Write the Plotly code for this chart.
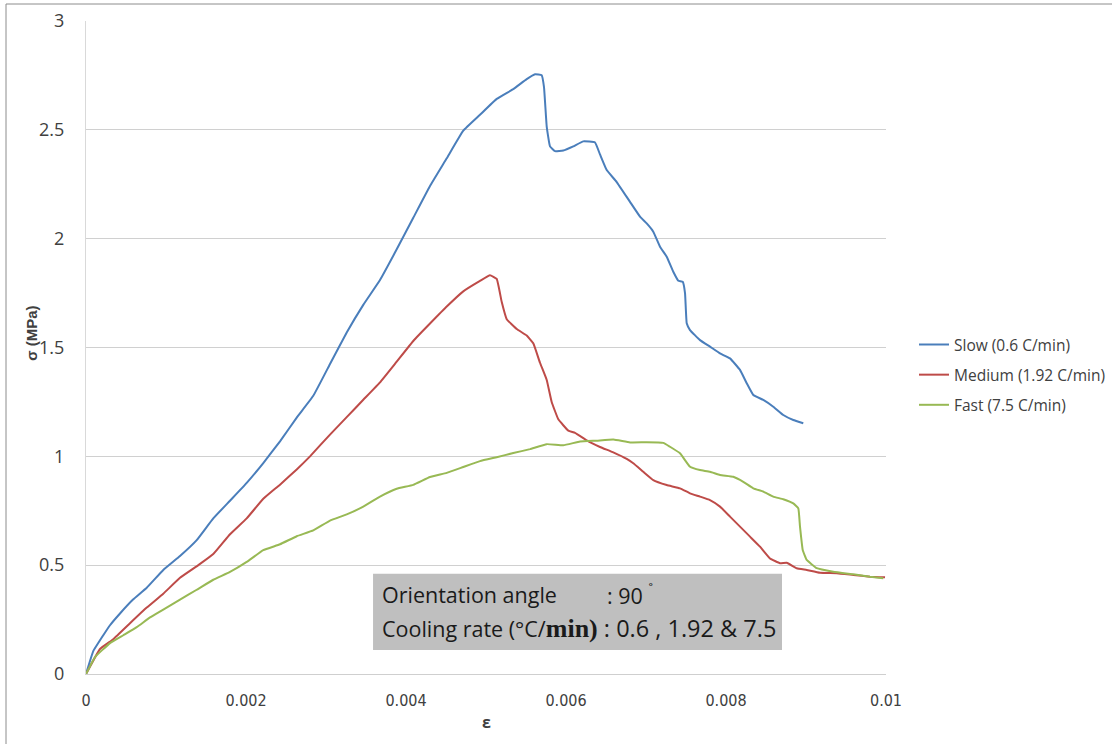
import plotly.graph_objects as go

# Strain (ε) and stress σ (MPa) for the three cooling rates
slow_eps = [0, 0.000091, 0.000216, 0.0003, 0.000425, 0.000588, 0.000759, 0.000966, 0.001175, 0.001384,
            0.001591, 0.0018, 0.002009, 0.002216, 0.002425, 0.002634, 0.002841, 0.00305, 0.003259, 0.003466,
            0.003675, 0.003884, 0.004091, 0.0043, 0.004509, 0.004716, 0.004925, 0.005134, 0.005341, 0.005509,
            0.005613, 0.005696, 0.005725, 0.005759, 0.0058, 0.005863, 0.005966, 0.006091, 0.006216, 0.006363,
            0.006425, 0.006509, 0.006634, 0.0068, 0.006925, 0.007009, 0.007091, 0.007175, 0.007259, 0.007341,
            0.007404, 0.007459, 0.007488, 0.007509, 0.00755, 0.007675, 0.0078, 0.007925, 0.00805, 0.008175,
            0.008259, 0.008341, 0.008466, 0.008591, 0.008716, 0.008841, 0.008966]
slow_sigma = [0, 0.105, 0.178, 0.224, 0.278, 0.342, 0.396, 0.478, 0.542, 0.615,
              0.715, 0.796, 0.878, 0.969, 1.069, 1.178, 1.278, 1.424, 1.569, 1.696,
              1.81, 1.951, 2.096, 2.242, 2.369, 2.496, 2.569, 2.642, 2.687, 2.733,
              2.755, 2.751, 2.696, 2.515, 2.424, 2.402, 2.405, 2.424, 2.447, 2.442,
              2.387, 2.315, 2.26, 2.169, 2.101, 2.07, 2.032, 1.963, 1.917, 1.848,
              1.807, 1.802, 1.749, 1.611, 1.58, 1.534, 1.504, 1.473, 1.45, 1.397,
              1.336, 1.282, 1.259, 1.228, 1.19, 1.167, 1.152]

medium_eps = [0, 0.000175, 0.000341, 0.00055, 0.000759, 0.000966, 0.001175, 0.001404, 0.001591, 0.0018,
              0.002009, 0.002216, 0.002425, 0.002634, 0.0028, 0.00305, 0.003259, 0.003466, 0.003675, 0.003884,
              0.004091, 0.0043, 0.004509, 0.004716, 0.004925, 0.00505, 0.005134, 0.005196, 0.005259, 0.005384,
              0.005509, 0.005591, 0.005675, 0.005759, 0.005821, 0.005904, 0.006029, 0.006113, 0.006259, 0.006425,
              0.006591, 0.006759, 0.006841, 0.006966, 0.007091, 0.007259, 0.007425, 0.00755, 0.007675, 0.0078,
              0.007925, 0.00805, 0.008175, 0.0083, 0.008425, 0.00855, 0.008675, 0.008759, 0.008884, 0.009009,
              0.009175, 0.009384, 0.009591, 0.0098, 0.009988]
medium_sigma = [0, 0.115, 0.16, 0.233, 0.305, 0.369, 0.442, 0.5, 0.551, 0.642,
                0.715, 0.805, 0.87, 0.94, 1.0, 1.1, 1.18, 1.26, 1.34, 1.435,
                1.53, 1.61, 1.688, 1.758, 1.806, 1.832, 1.815, 1.71, 1.63, 1.585,
                1.555, 1.519, 1.43, 1.351, 1.25, 1.17, 1.118, 1.108, 1.073, 1.043,
                1.018, 0.988, 0.968, 0.929, 0.891, 0.868, 0.853, 0.83, 0.815, 0.799,
                0.769, 0.723, 0.677, 0.631, 0.585, 0.531, 0.509, 0.511, 0.486, 0.478,
                0.465, 0.463, 0.455, 0.447, 0.444]

fast_eps = [0, 0.000113, 0.0003, 0.000466, 0.000634, 0.0008, 0.000966, 0.001175, 0.001384, 0.001591,
            0.0018, 0.002009, 0.002216, 0.002425, 0.002634, 0.002841, 0.00305, 0.003259, 0.003466, 0.003675,
            0.003884, 0.004091, 0.0043, 0.004509, 0.004716, 0.004925, 0.005134, 0.005341, 0.00555, 0.005759,
            0.005966, 0.006175, 0.006384, 0.006591, 0.0068, 0.007009, 0.007216, 0.0073, 0.007425, 0.00755,
            0.007675, 0.0078, 0.007925, 0.008091, 0.008216, 0.008341, 0.008466, 0.008591, 0.008716, 0.008841,
            0.008904, 0.008925, 0.008959, 0.009009, 0.009134, 0.009341, 0.009591, 0.0098, 0.009966]
fast_sigma = [0, 0.078, 0.142, 0.178, 0.215, 0.26, 0.296, 0.342, 0.387, 0.433,
              0.469, 0.515, 0.569, 0.596, 0.633, 0.66, 0.705, 0.733, 0.769, 0.815,
              0.851, 0.869, 0.905, 0.924, 0.951, 0.978, 0.996, 1.015, 1.033, 1.056,
              1.051, 1.068, 1.072, 1.077, 1.064, 1.065, 1.062, 1.044, 1.014, 0.952,
              0.937, 0.929, 0.914, 0.906, 0.883, 0.853, 0.838, 0.815, 0.803, 0.784,
              0.761, 0.677, 0.57, 0.524, 0.486, 0.47, 0.458, 0.447, 0.44]

series_names = ["Slow (0.6 C/min)", "Medium (1.92 C/min)", "Fast (7.5 C/min)"]
series_colors = ["#4a7ebb", "#be4b48", "#98b954"]

x_ticks = [0, 0.002, 0.004, 0.006, 0.008, 0.01]
x_ticktext = ["0", "0.002", "0.004", "0.006", "0.008", "0.01"]
y_ticks = [0, 0.5, 1, 1.5, 2, 2.5, 3]
y_ticktext = ["0", "0.5", "1", "1.5", "2", "2.5", "3"]

fig = go.Figure()
for i, (xs, ys, name, color) in enumerate(zip([slow_eps, medium_eps, fast_eps],
                                              [slow_sigma, medium_sigma, fast_sigma],
                                              series_names, series_colors)):
    fig.add_trace(go.Scatter(x=xs, y=ys, mode="lines", name=name, legendgroup=f"g{i}",
                             line=dict(color=color, width=2, shape="spline", smoothing=0.3)))

fig.update_layout(
    width=1112, height=744,
    margin=dict(l=86, r=226, t=21, b=70, autoexpand=False),
    paper_bgcolor="white", plot_bgcolor="white",
    font=dict(family="Open Sans, sans-serif", color="#404040"),
    showlegend=True,
    legend=dict(x=1.035, y=0.458, xanchor="left", yanchor="middle",
                font=dict(family="Open Sans, sans-serif", size=15.5, color="#404040"),
                tracegroupgap=7, itemwidth=30, bgcolor="rgba(0,0,0,0)"),
    xaxis=dict(range=[0, 0.01], tickvals=x_ticks, ticktext=x_ticktext,
               showgrid=False, zeroline=False, showline=True, linecolor="#cfcfcf", linewidth=1,
               ticks="", ticklabelstandoff=12,
               tickfont=dict(family="DejaVu Sans Condensed, Open Sans, sans-serif", size=16, color="#404040")),
    yaxis=dict(range=[0, 3], tickvals=y_ticks, ticktext=y_ticktext,
               showgrid=True, gridcolor="#d0d0d0", gridwidth=1, zeroline=False,
               showline=True, linecolor="#d9d9d9", linewidth=1,
               ticks="", ticklabelstandoff=17,
               tickfont=dict(family="Open Sans, sans-serif", size=18, color="#404040")),
)

# Axis titles
fig.add_annotation(text="<b>ε</b>", xref="paper", yref="paper", x=0.5, y=-0.0735,
                   xanchor="center", yanchor="middle",
                   showarrow=False, font=dict(size=16, color="#404040"))
fig.add_annotation(text="<b>σ (MPa)</b>", xref="paper", yref="paper", x=-0.068, y=0.522,
                   xanchor="center", yanchor="middle",
                   textangle=-90, showarrow=False,
                   font=dict(family="Liberation Sans, sans-serif", size=15, color="#404040"))

# Information box
fig.add_shape(type="rect", xref="x", yref="y", x0=0.003588, x1=0.008700, y0=0.11, y1=0.46,
              fillcolor="#bfbfbf", line=dict(width=0), layer="above")
box_font = dict(family="Open Sans, sans-serif", size=21.5, color="#1a1a1a")
fig.add_annotation(text="Orientation angle", xref="x", yref="y", x=0.00367, y=0.365,
                   xanchor="left", yanchor="middle", showarrow=False, font=box_font)
fig.add_annotation(text=": 90 <sup>˚</sup>", xref="x", yref="y", x=0.00649, y=0.365,
                   xanchor="left", yanchor="middle", showarrow=False, font=box_font)
fig.add_annotation(text='Cooling rate (°C/<span style="font-family:Liberation Serif;font-weight:bold;font-size:26px">min)</span>'
                        '<span style="font-size:23.5px"> : 0.6 , 1.92 &amp; 7.5</span>',
                   xref="x", yref="y", x=0.00367, y=0.21,
                   xanchor="left", yanchor="middle", showarrow=False, font=box_font)

# Outer chart frame
fig.add_shape(type="rect", xref="paper", yref="paper",
              x0=(6 - 86) / 800, x1=(1125 - 86) / 800,
              y0=(674 - 760) / 653, y1=(674 - 4) / 653,
              line=dict(color="#8c8c8c", width=1), fillcolor="rgba(0,0,0,0)", layer="below")

fig.write_html("out.html")
